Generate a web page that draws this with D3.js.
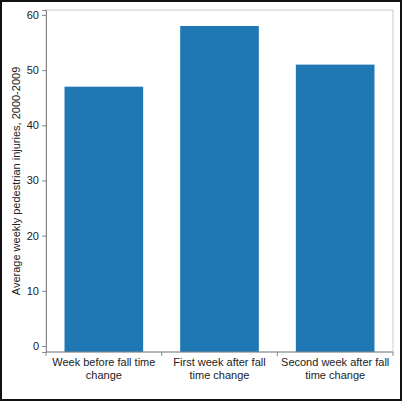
<!DOCTYPE html>
<html>
<head>
<meta charset="utf-8">
<script src="https://cdn.jsdelivr.net/npm/d3@7"></script>
<style>
body { margin: 0; background: #fff; }
svg { display: block; font-family: Arial, "Liberation Sans", sans-serif; }
</style>
</head>
<body>
<svg id="chart" width="402" height="401"></svg>
<script>
// Data
const categories = ['Week before fall time change', 'First week after fall time change', 'Second week after fall time change'];
const labelLines = [['Week before fall time', 'change'], ['First week after fall', 'time change'], ['Second week after fall', 'time change']];
const values = [47, 58, 51];
const yTicks = [0, 10, 20, 30, 40, 50, 60];

const svg = d3.select('#chart');
const plotLeft = 46, plotRight = 393, plotTop = 10, plotBottom = 352;

// outer frame
svg.append('rect').attr('x', 1).attr('y', 1).attr('width', 400).attr('height', 399)
    .attr('fill', 'none').attr('stroke', '#111').attr('stroke-width', 2);

const x = d3.scaleBand().domain(categories).range([plotLeft, plotRight]).paddingInner(0.32).paddingOuter(0.16);
const y = d3.scaleLinear().domain([-1.1, 60.9]).range([plotBottom, plotTop]);

// plot frame
svg.append('rect').attr('x', plotLeft).attr('y', plotTop).attr('width', plotRight - plotLeft).attr('height', plotBottom - plotTop)
    .attr('fill', 'none').attr('stroke', '#ccc');

svg.selectAll('.bar').data(values).enter().append('rect')
    .attr('class', 'bar')
    .attr('x', (d, i) => x(categories[i]))
    .attr('width', x.bandwidth())
    .attr('y', d => y(d))
    .attr('height', d => plotBottom - y(d))
    .attr('fill', '#1f77b4');

// y axis
const yAxis = svg.append('g').attr('transform', `translate(${plotLeft},0)`)
    .call(d3.axisLeft(y).tickValues(yTicks).tickSize(4).tickPadding(3));
yAxis.select('.domain').attr('stroke', '#888');
yAxis.selectAll('line').attr('stroke', '#888');
yAxis.selectAll('text').attr('font-size', 11).attr('fill', '#222');

// x axis
svg.append('line').attr('x1', plotLeft).attr('x2', plotRight).attr('y1', plotBottom).attr('y2', plotBottom).attr('stroke', '#888');
d3.range(categories.length + 1).forEach(i => {
    const xp = plotLeft + (plotRight - plotLeft) * i / categories.length;
    svg.append('line').attr('x1', xp).attr('x2', xp).attr('y1', plotBottom).attr('y2', plotBottom + 4).attr('stroke', '#888');
});
categories.forEach((c, i) => {
    const cx = x(c) + x.bandwidth() / 2;
    const t = svg.append('text').attr('x', cx).attr('y', plotBottom + 14)
        .attr('text-anchor', 'middle').attr('font-size', 11).attr('fill', '#222');
    labelLines[i].forEach((l, j) => t.append('tspan').attr('x', cx).attr('dy', j ? 13 : 0).text(l));
});

// y title
svg.append('text').attr('transform', `translate(20,${(plotTop + plotBottom) / 2}) rotate(-90)`)
    .attr('text-anchor', 'middle').attr('font-size', 11).attr('fill', '#222')
    .text('Average weekly pedestrian injuries, 2000-2009');
</script>
</body>
</html>
